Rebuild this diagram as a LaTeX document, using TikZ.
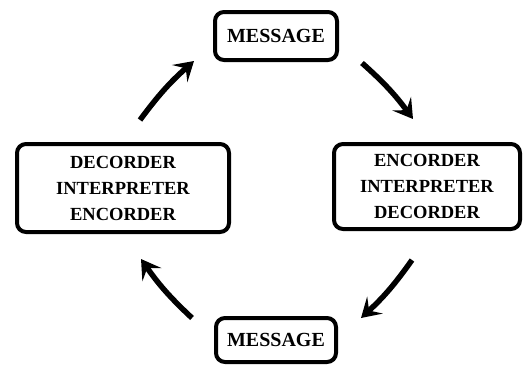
\documentclass[tikz,border=0pt]{standalone}
\usepackage{fontspec}
\setmainfont{Liberation Serif}
\usepackage{tikz}
\usetikzlibrary{arrows.meta}
\tikzset{roundbox/.style={draw, line width=4pt, rounded corners=9pt, inner sep=0pt, align=center, font=\bfseries\fontsize{18.5}{26}\selectfont}}
\tikzset{cyclearrow/.style={line width=5.5pt, -{Stealth[length=19pt,width=23pt,inset=8pt]}, bend left=6}}
\newcommand{\msgbox}[3]{node[roundbox, font=\bfseries\fontsize{20}{24}\selectfont, minimum width=#2, minimum height=#3](#1) {MESSAGE}}

\begin{document}
\begin{tikzpicture}[x=1pt, y=-1pt]
\useasboundingbox (0,0) rectangle (523,368);
\draw (276,36) \msgbox{msgtop}{122pt}{48pt} ;
\draw (276,340) \msgbox{msgbottom}{120pt}{44pt} ;
\draw (123,188) node[roundbox, minimum width=212pt, minimum height=88pt](decleft) {DECORDER\\INTERPRETER\\ENCORDER} ;
  \draw (427,186.5) node[roundbox, minimum width=186pt, minimum height=85pt](encright) {ENCORDER\\INTERPRETER\\DECORDER} ;
% free arrow ends around the cycle
\coordinate (tlA) at (140,120) ; \coordinate (tlB) at (194,61) ;
\coordinate (trA) at (362,63) ; \coordinate (trB) at (413,119) ;
\coordinate (brA) at (412,260) ; \coordinate (brB) at (361,318) ;
\coordinate (blA) at (192,318) ; \coordinate (blB) at (141,259) ;
\draw[cyclearrow] (tlA) to (tlB) ;
\draw[cyclearrow] (trA) to (trB) ;
\draw[cyclearrow] (brA) to (brB) ;
\draw[cyclearrow] (blA) to (blB) ;
\end{tikzpicture}
\end{document}
